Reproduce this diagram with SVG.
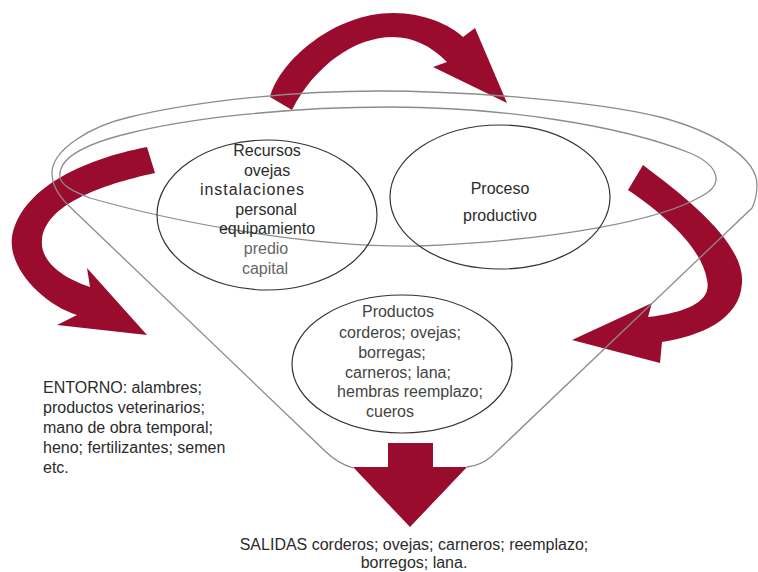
<svg xmlns="http://www.w3.org/2000/svg" width="758" height="572" viewBox="0 0 758 572">
<style>
.bg{fill:#ffffff}
.arrow{fill:#9a0c2e;stroke:none}
.rim{fill:none;stroke:#8c8c8c;stroke-width:1.3}
.node{fill:none;stroke:#333333;stroke-width:1.2}
text{font-family:"Liberation Sans",Arial,sans-serif;font-size:16px;fill:#2b2b2b}
.c{text-anchor:middle}
.light{fill:#666666}
.mid{fill:#444444}
</style>
<rect class="bg" x="0" y="0" width="758" height="572"/>
<g id="connectors">
<path id="arrow-top" class="arrow" d="M270,97 C280,60 335,13 393,13 C425,13 450,25 463,37 L475,28 L507,103 L433,67 L447,62 C430,45 412,37 393,37 C355,37 315,65 292,110 Z"/>
<path id="arrow-left" class="arrow" d="M147,147 C80,160 20,190 12,237 C8,270 45,305 77,315 L57,325 L147,335 L87,268 L90,287 C60,277 40,260 42,240 C45,205 100,185 155,173 Z"/>
<path id="arrow-right" class="arrow" d="M643,165 C690,200 745,245 742,283 C740,320 700,336 662,342 L660,363 L572,340 L652,303 L648,317 C690,312 712,300 707,280 C702,248 665,215 628,190 Z"/>
<polygon id="arrow-down" class="arrow" points="388,443 433,443 433,467 467,467 410,527 353,467 388,467"/>
</g>
<g id="funnel">
<path class="rim" d="M353,468 C340,464 332,458 325,451 L68,205 C58,195 52,185 52,173 C52,150 90,126 130,117 C200,100 300,91 378,91 C460,91 590,100 660,117 C720,133 757,160 757,185 C757,195 755,202 752,208 L492,456 C485,462 477,466 467,467"/>
<path class="rim" d="M60,177 C58,160 80,145 130,133 C190,118 290,107 390,107 C500,107 620,125 690,153 C720,166 725,185 700,197 C660,220 560,240 420,246 C300,248 160,218 90,198 C72,191 61,185 60,177 Z"/>
</g>
<g id="recursos">
<ellipse class="node" cx="267" cy="215" rx="110" ry="75"/>
<text class="c" x="267" y="156">Recursos</text>
<text class="c" x="267" y="175.6">ovejas</text>
<text class="c" x="252" y="195.2" textLength="104">instalaciones</text>
<text class="c" x="266" y="214.8">personal</text>
<text class="c" x="267" y="234.4">equipamiento</text>
<text class="c light" x="266" y="254">predio</text>
<text class="c light" x="265" y="273.6">capital</text>
</g>
<g id="proceso">
<ellipse class="node" cx="500" cy="197" rx="110" ry="72"/>
<text class="c" x="500" y="194">Proceso</text>
<text class="c" x="500" y="221">productivo</text>
</g>
<g id="productos">
<ellipse class="node" cx="402" cy="364" rx="110" ry="69"/>
<text class="c mid" x="398" y="317">Productos</text>
<text class="c mid" x="400" y="338">corderos; ovejas;</text>
<text class="c mid" x="392" y="358">borregas;</text>
<text class="c mid" x="398" y="378">carneros; lana;</text>
<text class="c mid" x="410" y="397">hembras reemplazo;</text>
<text class="c mid" x="390" y="417">cueros</text>
</g>
<g id="entorno">
<text x="43" y="393">ENTORNO: alambres;</text>
<text x="43" y="413">productos veterinarios;</text>
<text x="43" y="433">mano de obra temporal;</text>
<text x="43" y="453">heno; fertilizantes; semen</text>
<text x="43" y="473">etc.</text>
</g>
<g id="salidas">
<text class="c" x="414" y="550">SALIDAS corderos; ovejas; carneros; reemplazo;</text>
<text class="c" x="414" y="568">borregos; lana.</text>
</g>
</svg>
